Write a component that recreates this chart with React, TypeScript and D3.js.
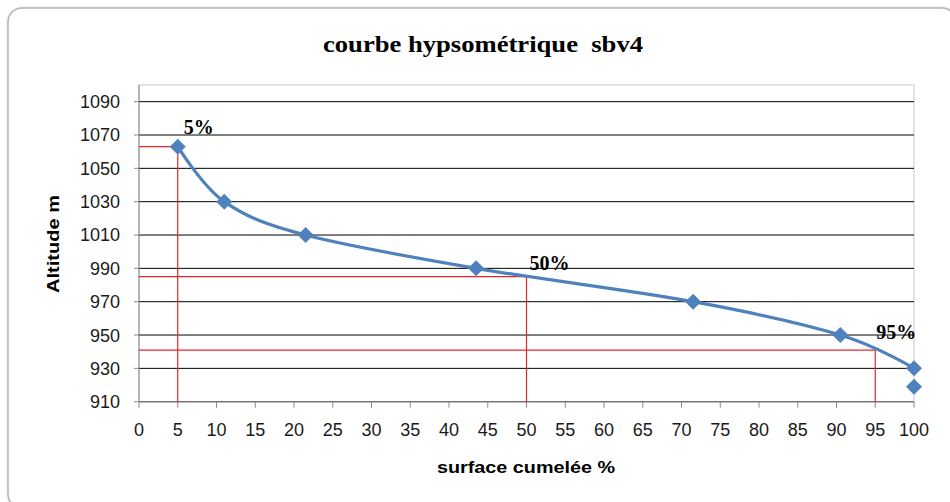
import React from "react";
import * as d3 from "d3";

const surface = [5, 11, 21.5, 43.5, 71.5, 90.5, 100];
const altitude = [1063, 1030, 1010, 990, 970, 950, 930];
const extraSurface = [100];
const extraAltitude = [919];
const xTicks = [0, 5, 10, 15, 20, 25, 30, 35, 40, 45, 50, 55, 60, 65, 70, 75, 80, 85, 90, 95, 100];
const yTicks = [910, 930, 950, 970, 990, 1010, 1030, 1050, 1070, 1090];
const refPct = [5, 50, 95];
const refAlt = [1063, 985, 941];
const refLabels = ["5%", "50%", "95%"];

const W = 950, H = 502;
const L = 139, R = 914, T = 85, B = 401.7;

export default function App() {
  const x = d3.scaleLinear().domain([0, 100]).range([L, R]);
  const y = d3.scaleLinear().domain([910, 1100]).range([B, T]);
  const pts = surface.map((s, i) => [x(s), y(altitude[i])] as [number, number]);
  const line = d3.line().curve(d3.curveCardinal.tension(0))(pts) || "";
  const diamond = (cx: number, cy: number) => {
    const r = 8;
    return `M${cx},${cy - r}L${cx + r},${cy}L${cx},${cy + r}L${cx - r},${cy}Z`;
  };
  const labelPos = [
    [x(5) + 21, y(1063) - 20],
    [x(50) + 23, y(985) - 14],
    [x(95) + 21, y(941) - 18],
  ];
  const sans = "'Liberation Sans', Arial, sans-serif";
  const serif = "'Liberation Serif', 'Times New Roman', serif";
  return (
    <svg width={W} height={H} style={{ position: "absolute", left: 0, top: 0 }}>
      <defs>
        <filter id="sh" x="-5%" y="-5%" width="110%" height="110%">
          <feDropShadow dx="1" dy="1" stdDeviation="1.5" floodColor="#000" floodOpacity="0.3" />
        </filter>
      </defs>
      <rect x={0} y={0} width={W} height={H} fill="#fff" />
      <rect x={8} y={8} width={948} height={500} rx={14} ry={14} fill="#fff" stroke="#b4b4b4" strokeWidth={1.5} filter="url(#sh)" />
      <text x={483} y={52} textAnchor="middle" fontFamily={serif} fontWeight="bold" fontSize={24} fill="#000" textLength={320} lengthAdjust="spacingAndGlyphs" style={{ whiteSpace: "pre" }} xmlSpace="preserve">{"courbe hypsométrique  sbv4"}</text>
      {/* plot frame */}
      <rect x={L} y={T} width={R - L} height={B - T} fill="none" stroke="#c8c8c8" strokeWidth={1} />
      {yTicks.map((t) => (
        <line key={"g" + t} x1={L} x2={R} y1={y(t)} y2={y(t)} stroke="#000" strokeWidth={1} />
      ))}
      {/* axes */}
      <line x1={L} x2={L} y1={T} y2={B} stroke="#888" strokeWidth={1} />
      <line x1={L} x2={R} y1={B} y2={B} stroke="#888" strokeWidth={1} />
      {yTicks.map((t) => (
        <g key={"y" + t}>
          <line x1={L - 5} x2={L} y1={y(t)} y2={y(t)} stroke="#888" />
          <text x={120} y={y(t)} dy="0.36em" textAnchor="end" fontFamily={sans} fontSize={18} fill="#1a1a1a">{t}</text>
        </g>
      ))}
      {xTicks.map((t) => (
        <g key={"x" + t}>
          <line x1={x(t)} x2={x(t)} y1={B} y2={B + 6} stroke="#888" />
          <text x={x(t)} y={430} dy="0.36em" textAnchor="middle" fontFamily={sans} fontSize={18} fill="#1a1a1a">{t}</text>
        </g>
      ))}
      {/* reference lines */}
      {refPct.map((p, i) => (
        <g key={"r" + p}>
          <line x1={L} x2={x(p)} y1={y(refAlt[i])} y2={y(refAlt[i])} stroke="#e8252f" strokeWidth={1.2} />
          <line x1={x(p)} x2={x(p)} y1={y(refAlt[i])} y2={B} stroke="#e8252f" strokeWidth={1.2} />
        </g>
      ))}
      <path d={line} fill="none" stroke="#4f81bd" strokeWidth={3.2} />
      {pts.map((p, i) => (
        <path key={"m" + i} d={diamond(p[0], p[1])} fill="#4f81bd" />
      ))}
      {extraSurface.map((s, i) => (
        <path key={"e" + i} d={diamond(x(s), y(extraAltitude[i]))} fill="#4f81bd" />
      ))}
      {refLabels.map((l, i) => (
        <text key={"l" + i} x={labelPos[i][0]} y={labelPos[i][1]} dy="0.36em" textAnchor="middle" fontFamily={serif} fontWeight="bold" fontSize={20} fill="#000">{l}</text>
      ))}
      <text x={526} y={467} dy="0.36em" textAnchor="middle" fontFamily={sans} fontWeight="bold" fontSize={16} fill="#000" textLength={178} lengthAdjust="spacingAndGlyphs">surface cumelée %</text>
      <text transform={`translate(53,244) rotate(-90)`} dy="0.36em" textAnchor="middle" fontFamily={sans} fontWeight="bold" fontSize={16} fill="#000" textLength={98} lengthAdjust="spacingAndGlyphs">Altitude m</text>
    </svg>
  );
}
